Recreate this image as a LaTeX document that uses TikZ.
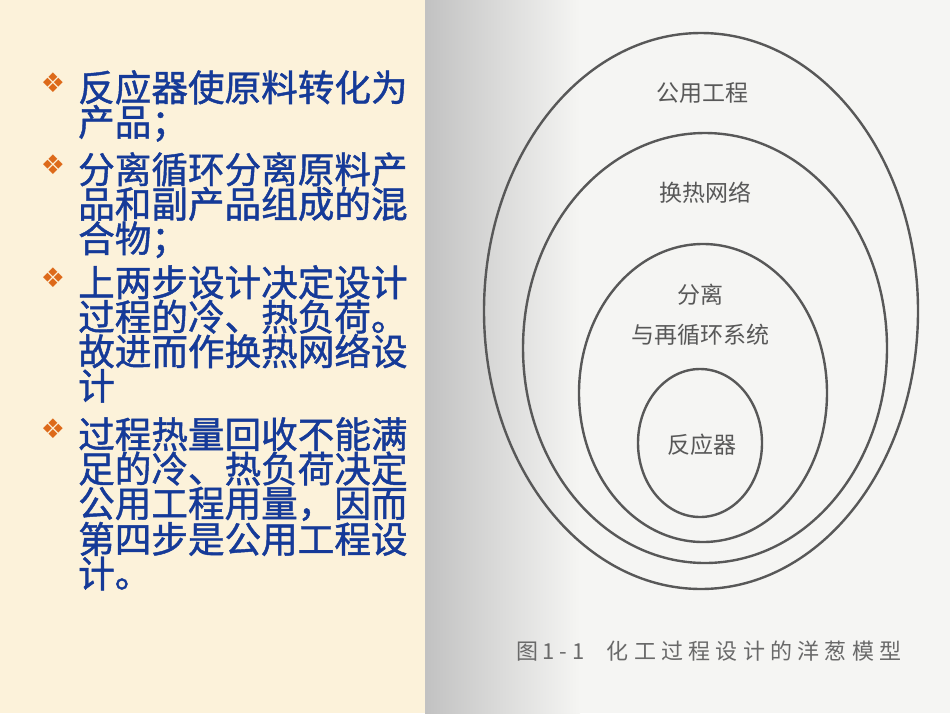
\documentclass[tikz,border=0pt]{standalone}
\usepackage{fontspec}
\setmainfont{Noto Sans CJK SC}
\newfontfamily\slidefont[FakeBold=1.2]{Noto Sans CJK SC}
\newfontfamily\symfont{DejaVu Sans}
\newfontfamily\capfont[LetterSpace=24]{Noto Sans CJK SC}
\usepackage{xcolor}
\usetikzlibrary{positioning}
\definecolor{slidebg}{HTML}{FCF2DA}
\definecolor{textblue}{HTML}{153A98}
\definecolor{bulletorange}{HTML}{DD6A1A}
\definecolor{inkgrey}{HTML}{585858}
\definecolor{paper}{HTML}{F5F5F3}

\tikzset{
  item/.style = {anchor=north west, inner sep=0pt, text width=345pt, align=left,
                 text=textblue, font=\slidefont\fontsize{36.6}{34.5}\selectfont},
  bullet/.style = {inner sep=0pt, text=bulletorange, font=\symfont\fontsize{27}{27}\selectfont},
  layer/.style = {draw=inkgrey, line width=2.4pt},
  tag/.style = {inner sep=0pt, text=inkgrey, font=\fontsize{23}{23}\selectfont}
}

\begin{document}
\begin{tikzpicture}[x=1pt, y=-1pt]
    \useasboundingbox (0,0) rectangle (950,713);
    % slide and scanned figure
    \fill[slidebg] (0,0) rectangle (425,713);
    \fill[paper] (425,0) rectangle (950,713);
    \shade[left color=gray!48, right color=paper] (425,0) rectangle (580,713);

    % bullet list
    \node[item] (p1) at (78,70) {反应器使原料转化为\\产品；};
    \node[item] (p2) at (78,152) {分离循环分离原料产\\品和副产品组成的混\\合物；};
    \node[item] (p3) at (78,265) {上两步设计决定设计\\过程的冷、热负荷。\\故进而作换热网络设\\计};
    \node[item] (p4) at (78,417) {过程热量回收不能满\\足的冷、热负荷决定\\公用工程用量，因而\\第四步是公用工程设\\计。};
    \node[bullet] (b1) at (53,83) {❖};
    \node[bullet] (b2) at (53,165) {❖};
    \node[bullet] (b3) at (53,278) {❖};
    \node[bullet] (b4) at (53,429) {❖};

    % onion model
    \coordinate (utility) at (701,311);
    \coordinate (hen) at (705,348);
    \coordinate (sep) at (703,393);
    \coordinate (reactor) at (700,443);
    \draw[layer] (utility) ellipse [x radius=217, y radius=278];
    \draw[layer] (hen) ellipse [x radius=182, y radius=215];
    \draw[layer] (sep) ellipse [x radius=124, y radius=149];
    \draw[layer] (reactor) ellipse [x radius=62, y radius=74];

    \node[tag] (t1) at (702,93) {公用工程};
    \node[tag] (t2) at (705,193) {换热网络};
    \node[tag] (t3) at (700,295) {分离};
    \node[tag] (t3b) at (700,335) {与再循环系统};
    \node[tag] (t4) at (702,445) {反应器};

    \node[inner sep=0pt, text=inkgrey!90, font=\capfont\fontsize{22}{22}\selectfont] (cap) at (709,651) {图\,1-1\quad 化工过程设计的洋葱模型};
\end{tikzpicture}
\end{document}
